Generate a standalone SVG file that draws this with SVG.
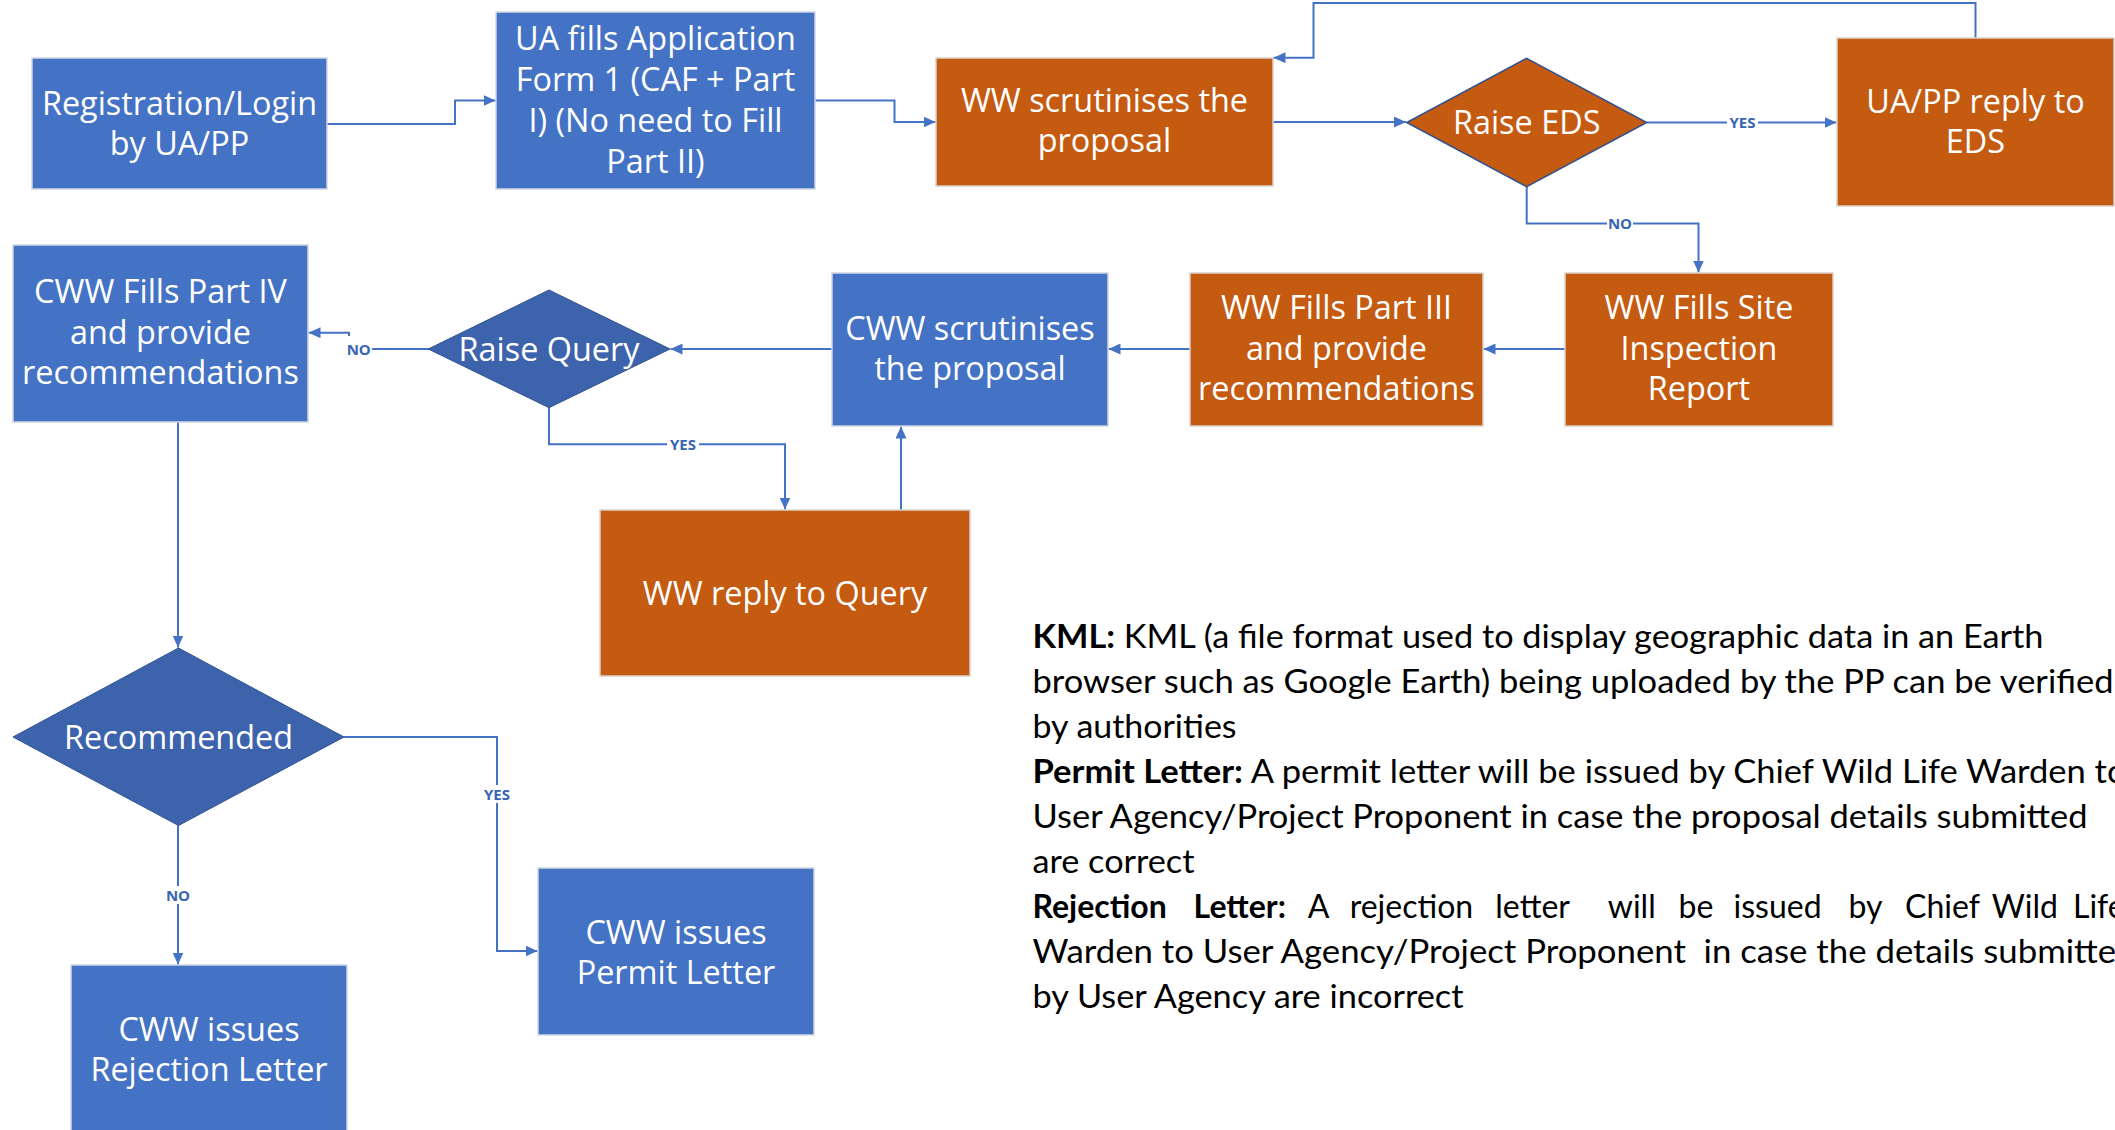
<svg xmlns="http://www.w3.org/2000/svg" width="2115" height="1130" viewBox="0 0 2115 1130">
<defs>
<style>
.blue{fill:#4472C4;stroke:#d0d6e2;stroke-width:1.5}
.orange{fill:#C55A11;stroke:#d9d2cc;stroke-width:1.5}
.dia{fill:#3D63AC;stroke:#2F528F;stroke-width:1}
.diao{fill:#C55A11;stroke:#2F528F;stroke-width:1.5}
.t{font-family:"Open Sans","Noto Sans",sans-serif;font-size:32.4px;fill:#ffffff;text-anchor:middle}
.c{fill:none;stroke:#4472C4;stroke-width:2;marker-end:url(#ah)}
.lbl{font-family:"Open Sans","Noto Sans",sans-serif;font-size:15px;font-weight:bold;fill:#3764B4;text-anchor:middle}
.lg{font-family:Lato,"Liberation Sans",sans-serif;font-size:32px;fill:#000000}
.b{font-weight:bold}
</style>
<marker id="ah" markerUnits="userSpaceOnUse" markerWidth="12" markerHeight="11" refX="12" refY="5.5" orient="auto">
<path d="M0,0 L12,5.5 L0,11 z" fill="#4472C4"/>
</marker>
</defs>
<rect width="2115" height="1130" fill="#ffffff"/>

<g id="connectors">
<path class="c" d="M327,124 H455 V100.5 H495.5"/>
<path class="c" d="M815,100.5 H894.5 V122 H935.5"/>
<path class="c" d="M1273,122 H1406"/>
<path class="c" d="M1647,122.5 H1836.5"/>
<path class="c" d="M1975.5,38 V3 H1313.5 V57.7 H1273.5"/>
<path class="c" d="M1526.7,187 V223.5 H1698.5 V272.5"/>
<path class="c" d="M1565,349 H1483.5"/>
<path class="c" d="M1190,349 H1108.5"/>
<path class="c" d="M832,349 H670.5"/>
<path class="c" d="M429,349 H349 V332.7 H308.5"/>
<path class="c" d="M549,407.7 V444.3 H785 V509.5"/>
<path class="c" d="M901,510 V426.5"/>
<path class="c" d="M178,422 V647.5"/>
<path class="c" d="M344,737 H497 V951 H537.5"/>
<path class="c" d="M178,825 V964.5"/>
<g id="labels">
<rect x="1727" y="114" width="31" height="17" fill="#ffffff"/>
<text class="lbl" x="1742.5" y="128">YES</text>
<rect x="1607" y="215" width="26" height="17" fill="#ffffff"/>
<text class="lbl" x="1620" y="229">NO</text>
<rect x="345" y="336" width="27" height="20" fill="#ffffff"/>
<text class="lbl" x="358.7" y="354.5">NO</text>
<rect x="667" y="436" width="32" height="17" fill="#ffffff"/>
<text class="lbl" x="683" y="450">YES</text>
<rect x="481" y="785" width="32" height="18" fill="#ffffff"/>
<text class="lbl" x="497" y="800">YES</text>
<rect x="164" y="886" width="28" height="18" fill="#ffffff"/>
<text class="lbl" x="178" y="900.5">NO</text>
</g>
</g>

<g id="n-registration">
<rect class="blue" x="32" y="58" width="295" height="131"/>
<text class="t" x="179.5" y="114.5">Registration/Login</text>
<text class="t" x="179.5" y="155">by UA/PP</text>
</g>
<g id="n-application">
<rect class="blue" x="496" y="12" width="319" height="177"/>
<text class="t" x="655.5" y="49.5">UA fills Application</text>
<text class="t" x="655.5" y="90.5">Form 1 (CAF + Part</text>
<text class="t" x="655.5" y="131.5">I) (No need to Fill</text>
<text class="t" x="655.5" y="172.5">Part II)</text>
</g>
<g id="n-ww-scrutinise">
<rect class="orange" x="936" y="58" width="337" height="128"/>
<text class="t" x="1104.5" y="111.5">WW scrutinises the</text>
<text class="t" x="1104.5" y="152">proposal</text>
</g>
<g id="n-raise-eds">
<polygon class="diao" points="1526.7,58.3 1646.7,122.5 1526.7,186.7 1406.7,122.5"/>
<text class="t" x="1526.7" y="134">Raise EDS</text>
</g>
<g id="n-reply-eds">
<rect class="orange" x="1837" y="38" width="277" height="168"/>
<text class="t" x="1975.5" y="112.5">UA/PP reply to</text>
<text class="t" x="1975.5" y="153">EDS</text>
</g>
<g id="n-site-inspection">
<rect class="orange" x="1565" y="273" width="268" height="153"/>
<text class="t" x="1699" y="319">WW Fills Site</text>
<text class="t" x="1699" y="359.5">Inspection</text>
<text class="t" x="1699" y="400">Report</text>
</g>
<g id="n-part3">
<rect class="orange" x="1190" y="273" width="293" height="153"/>
<text class="t" x="1336.5" y="319">WW Fills Part III</text>
<text class="t" x="1336.5" y="359.5">and provide</text>
<text class="t" x="1336.5" y="400">recommendations</text>
</g>
<g id="n-cww-scrutinise">
<rect class="blue" x="832" y="273" width="276" height="153"/>
<text class="t" x="970" y="339.5">CWW scrutinises</text>
<text class="t" x="970" y="380">the proposal</text>
</g>
<g id="n-raise-query">
<polygon class="dia" points="549,290 670,349 549,407.7 428.3,349"/>
<text class="t" x="549" y="360.5">Raise Query</text>
</g>
<g id="n-part4">
<rect class="blue" x="13" y="245" width="295" height="177"/>
<text class="t" x="160.5" y="303">CWW Fills Part IV</text>
<text class="t" x="160.5" y="343.5">and provide</text>
<text class="t" x="160.5" y="384">recommendations</text>
</g>
<g id="n-ww-reply">
<rect class="orange" x="600" y="510" width="370" height="166"/>
<text class="t" x="785" y="605">WW reply to Query</text>
</g>
<g id="n-recommended">
<polygon class="dia" points="178.5,648 344,737 178.5,825.5 13,737"/>
<text class="t" x="178.5" y="748.5">Recommended</text>
</g>
<g id="n-permit">
<rect class="blue" x="538" y="868" width="276" height="167"/>
<text class="t" x="676" y="943.5">CWW issues</text>
<text class="t" x="676" y="984">Permit Letter</text>
</g>
<g id="n-rejection">
<rect class="blue" x="71" y="965" width="276" height="175"/>
<text class="t" x="209" y="1040.5">CWW issues</text>
<text class="t" x="209" y="1081">Rejection Letter</text>
</g>

<g id="legend">
<text class="lg" x="1032.5" y="648" textLength="1011" lengthAdjust="spacingAndGlyphs"><tspan class="b">KML:</tspan> KML (a file format used to display geographic data in an Earth</text>
<text class="lg" x="1032.5" y="693" textLength="1081" lengthAdjust="spacingAndGlyphs">browser such as Google Earth) being uploaded by the PP can be verified</text>
<text class="lg" x="1032.5" y="738" textLength="204" lengthAdjust="spacingAndGlyphs">by authorities</text>
<text class="lg" x="1032.5" y="783" textLength="1094" lengthAdjust="spacingAndGlyphs"><tspan class="b">Permit Letter:</tspan> A permit letter will be issued by Chief Wild Life Warden to</text>
<text class="lg" x="1032.5" y="828" textLength="1055" lengthAdjust="spacingAndGlyphs">User Agency/Project Proponent in case the proposal details submitted</text>
<text class="lg" x="1032.5" y="873" textLength="162" lengthAdjust="spacingAndGlyphs">are correct</text>
<text class="lg" y="918"><tspan class="b" x="1032.5">Rejection</tspan><tspan class="b" x="1193.6">Letter:</tspan><tspan x="1307.7">A</tspan><tspan x="1349.7">rejection</tspan><tspan x="1495.3">letter</tspan><tspan x="1607.8">will</tspan><tspan x="1678.6">be</tspan><tspan x="1733.5">issued</tspan><tspan x="1848.5">by</tspan><tspan x="1905">Chief</tspan><tspan x="1991.8">Wild</tspan><tspan x="2073">Life</tspan></text>
<text class="lg" x="1032.5" y="963" textLength="1103" lengthAdjust="spacingAndGlyphs" xml:space="preserve">Warden to User Agency/Project Proponent  in case the details submitted</text>
<text class="lg" x="1032.5" y="1008" textLength="431" lengthAdjust="spacingAndGlyphs">by User Agency are incorrect</text>
</g>
</svg>
